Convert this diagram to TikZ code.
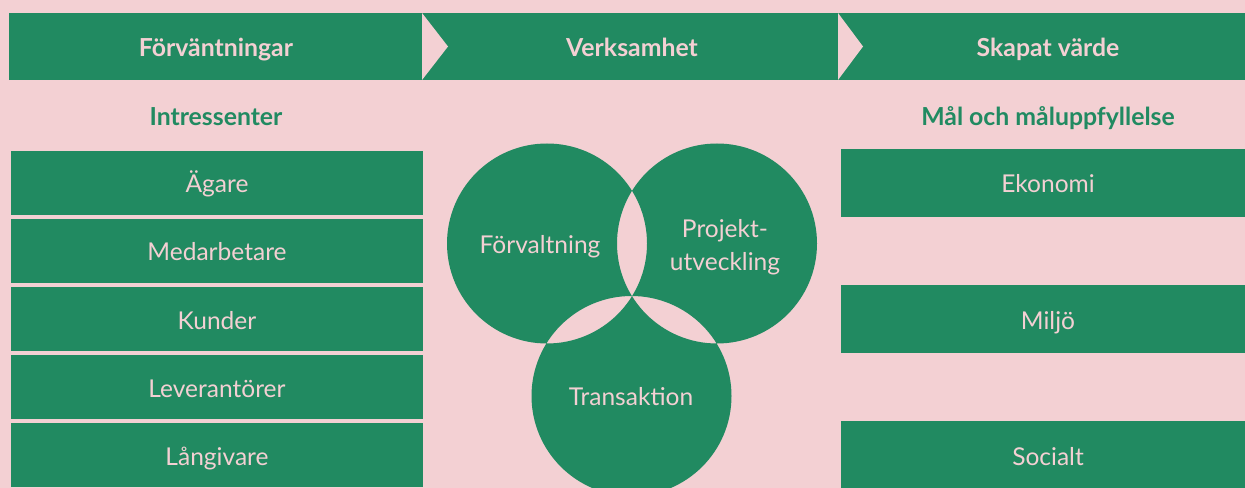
\documentclass[tikz,border=0pt]{standalone}
\usepackage{fontspec}
\setmainfont{Lato}
\definecolor{brandgreen}{HTML}{218A61}
\definecolor{blush}{HTML}{F3D0D3}
\tikzset{
  item/.style={fill=brandgreen, text=blush, inner sep=0pt, minimum width=309pt,
    minimum height=48pt, font=\fontsize{18.4}{22}\selectfont, text height=15pt, text depth=0pt},
  goal/.style={item, minimum width=311pt, minimum height=51pt},
  heading/.style={text=blush, inner sep=0pt, font=\fontsize{18.6}{22}\selectfont\bfseries,
    text height=15pt, text depth=0pt},
  subheading/.style={heading, text=brandgreen},
  area/.style={text=blush, inner sep=0pt, align=center, font=\fontsize{18.4}{25}\selectfont}
}
\begin{document}
\begin{tikzpicture}[x=0.75pt, y=-0.75pt]
    % Background and frame
    \fill[blush] (0, 0) rectangle (1245, 488);
    \useasboundingbox (0, 0) rectangle (1245, 488);
    \clip (0, 0) rectangle (1245, 488);

    % Header band with the two notches
    \fill[brandgreen] (9, 13) rectangle (1260, 80);
    \fill[blush] (422, 13) -- (448, 46.5) -- (422, 80) -- cycle; % first notch
    \fill[blush] (838, 13) -- (863, 46.5) -- (838, 80) -- cycle; % second notch

    \node[heading] (hdexp) at (216, 46.5) {Förväntningar};
    \node[heading] (hdops) at (632, 46.5) {Verksamhet};
    \node[heading] (hdval) at (1048, 46.5) {Skapat värde};

    % Left column: stakeholders
    \node[subheading] (stake) at (216, 116) {Intressenter};
    \foreach \name/\y/\txt in {own/183/Ägare, staff/251/Medarbetare, cust/319/Kunder,
                               supp/387/Leverantörer, lend/455/Långivare}
        \node[item] (\name) at (217, \y) {\txt};

    % Middle: three overlapping circles
    \fill[brandgreen, even odd rule] (547, 243.5) circle (75pt)
                                    (717, 243.5) circle (75pt)
                                    (631.5, 396) circle (75pt);
    \node[area, anchor=base] (mgmt) at (540, 253) {Förvaltning};
    \node[area] (dev) at (725, 247) {Projekt-\\utveckling};
    \node[area, anchor=base] (trans) at (631, 405) {Transaktion};

    % Right column: goals
    \node[subheading] (goals) at (1048, 116) {Mål och måluppfyllelse};
    \node[goal] (econ) at (1048, 183) {Ekonomi};
    \node[goal] (env) at (1048, 319) {Miljö};
    \node[goal] (soc) at (1048, 455) {Socialt};
\end{tikzpicture}
\end{document}
